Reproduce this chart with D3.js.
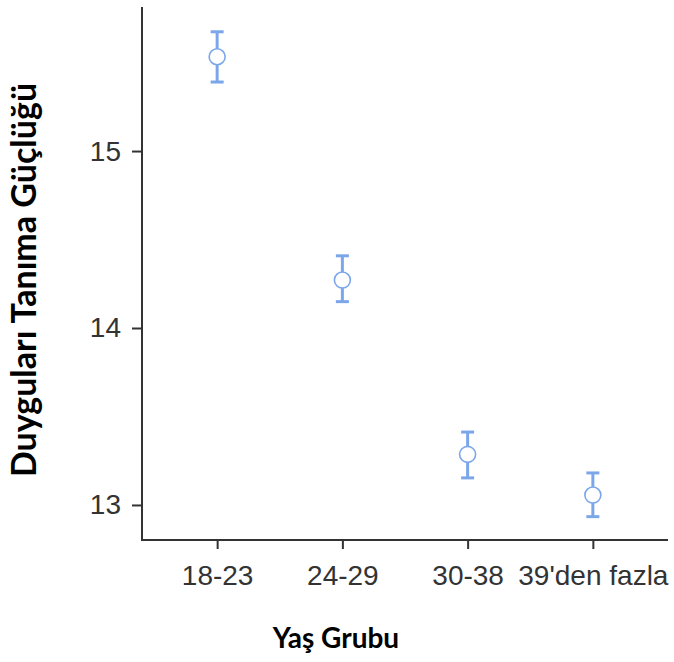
<!DOCTYPE html>
<html>
<head>
<meta charset="utf-8">
<script src="https://cdn.jsdelivr.net/npm/d3@7"></script>
<style>
  body { margin: 0; background: #fff; }
  .tick text { font-family: "Liberation Sans", Arial, sans-serif; fill: #333; }
</style>
</head>
<body>
<div class="view1"></div>
<script>
// age groups and the values
const groups = ["18-23", "24-29", "30-38", "39'den fazla"];
const means = [15.533, 14.271, 13.286, 13.056];
const lower = [15.390, 14.149, 13.153, 12.934];
const upper = [15.674, 14.408, 13.412, 13.181];
const yTicks = [13, 14, 15];

const W = 674, H = 662;
const margin = {top: 7, right: 6, bottom: 122, left: 142};
const width = W - margin.left - margin.right;
const height = H - margin.top - margin.bottom;
const blue = "#7ba7ea";

let svg = d3.select(".view1").append("svg")
    .attr("width", W)
    .attr("height", H);

let g = svg.append("g")
    .attr("transform", "translate(" + margin.left + "," + margin.top + ")");

let x = d3.scalePoint()
    .domain(groups)
    .range([0, width])
    .padding(0.6);

let y = d3.scaleLinear()
    .domain([12.802, 15.814])
    .range([height, 0]);

// axes
let yAxis = g.append("g")
    .call(d3.axisLeft(y).tickValues(yTicks).tickSize(10).tickPadding(11).tickFormat(d3.format("d")));
let xAxis = g.append("g")
    .attr("transform", "translate(0," + height + ")")
    .call(d3.axisBottom(x).tickSize(9).tickPadding(16));

[yAxis, xAxis].forEach(a => {
    a.select(".domain").attr("stroke", "#333").attr("stroke-width", 2);
    a.selectAll(".tick line").attr("stroke", "#333").attr("stroke-width", 2);
    a.selectAll(".tick text").style("font-size", "28px");
});
// axisLeft domain draws the outer tick; redraw plain lines
yAxis.select(".domain").attr("d", "M0," + (height + 1) + "V0");
xAxis.select(".domain").attr("d", "M0,0H" + width);

let data = groups.map((d, i) => ({g: d, m: means[i], lo: lower[i], hi: upper[i]}));

let bars = g.append("g").selectAll("g")
    .data(data)
    .enter().append("g");

bars.append("line")
    .attr("x1", d => x(d.g)).attr("x2", d => x(d.g))
    .attr("y1", d => y(d.lo)).attr("y2", d => y(d.hi))
    .attr("stroke", blue).attr("stroke-width", 3);
bars.selectAll("line.cap")
    .data(d => [[d.g, d.lo], [d.g, d.hi]])
    .enter().append("line")
    .attr("class", "cap")
    .attr("x1", d => x(d[0]) - 6.5).attr("x2", d => x(d[0]) + 6.5)
    .attr("y1", d => y(d[1])).attr("y2", d => y(d[1]))
    .attr("stroke", blue).attr("stroke-width", 3);
bars.append("circle")
    .attr("cx", d => x(d.g))
    .attr("cy", d => y(d.m))
    .attr("r", 8)
    .attr("fill", "#fff")
    .attr("stroke", blue)
    .attr("stroke-width", 1.6);

// axis titles
svg.append("text")
    .attr("x", 336)
    .attr("y", 648)
    .attr("text-anchor", "middle")
    .style("font-family", "Lato, 'Open Sans', sans-serif")
    .style("font-weight", "bold")
    .style("font-size", "28px")
    .text("Yaş Grubu");

svg.append("text")
    .attr("transform", "translate(36,280) rotate(-90)")
    .attr("text-anchor", "middle")
    .style("font-family", "Lato, 'Open Sans', sans-serif")
    .style("font-weight", "bold")
    .style("font-size", "34px")
    .text("Duyguları Tanıma Güçlüğü");
</script>
</body>
</html>
